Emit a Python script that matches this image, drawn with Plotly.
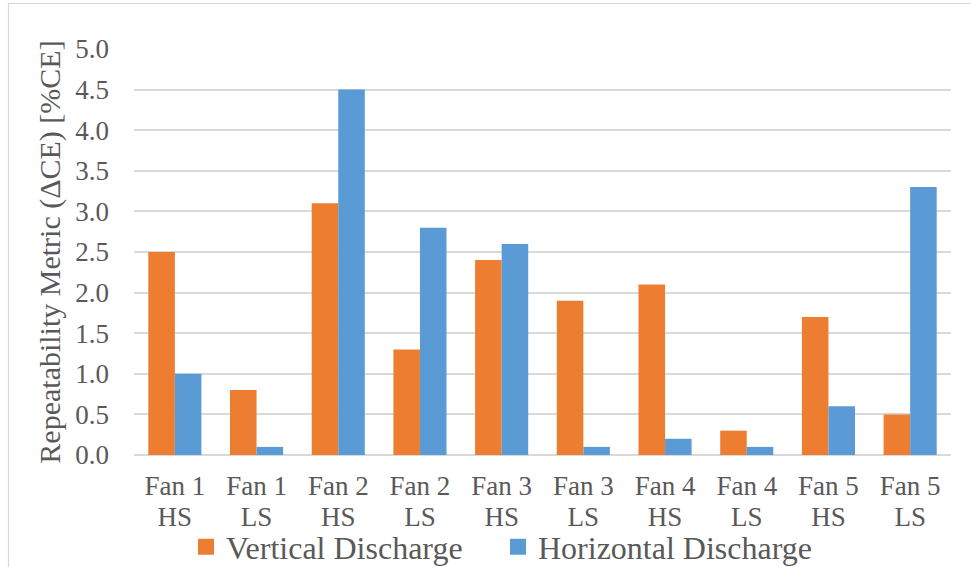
import plotly.graph_objects as go

# Fan / speed combinations on the x axis
categories = ["Fan 1 HS", "Fan 1 LS", "Fan 2 HS", "Fan 2 LS", "Fan 3 HS",
              "Fan 3 LS", "Fan 4 HS", "Fan 4 LS", "Fan 5 HS", "Fan 5 LS"]
fan_labels = ["Fan 1", "Fan 1", "Fan 2", "Fan 2", "Fan 3",
              "Fan 3", "Fan 4", "Fan 4", "Fan 5", "Fan 5"]
speed_labels = ["HS", "LS", "HS", "LS", "HS", "LS", "HS", "LS", "HS", "LS"]

# Repeatability metric (delta CE, %CE) per discharge orientation
vertical = [2.5, 0.8, 3.1, 1.3, 2.4, 1.9, 2.1, 0.3, 1.7, 0.5]
horizontal = [1.0, 0.1, 4.5, 2.8, 2.6, 0.1, 0.2, 0.1, 0.6, 3.3]

y_ticks = [0.0, 0.5, 1.0, 1.5, 2.0, 2.5, 3.0, 3.5, 4.0, 4.5, 5.0]

ORANGE = "#ED7D31"
BLUE = "#5B9BD5"
TEXT = "#595959"
GRID = "#D9D9D9"
FONT = "Liberation Serif, Times New Roman, serif"

positions = list(range(len(categories)))
x_range = [-0.5, len(categories) - 0.5]

fig = go.Figure()
fig.add_trace(go.Bar(x=categories, y=vertical, name="Vertical Discharge",
                     marker=dict(color=ORANGE, line=dict(width=0)), showlegend=False))
fig.add_trace(go.Bar(x=categories, y=horizontal, name="Horizontal Discharge",
                     marker=dict(color=BLUE, line=dict(width=0)), showlegend=False))

# legend entries with larger square swatches (no data; they also carry the second label axis)
for name, color, lg in [("Vertical Discharge", ORANGE, "legend"),
                        ("Horizontal Discharge", BLUE, "legend2")]:
    fig.add_trace(go.Scatter(x=[None], y=[None], mode="markers", name=name, xaxis="x2",
                             legend=lg,
                             marker=dict(symbol="square", size=16, color=color)))

L, R, T, B = 134, 20, 49, 112
W, H = 971, 567
pw, ph = W - L - R, H - T - B

legend_style = dict(orientation="h", xref="container", yref="container",
                    xanchor="left", y=1 - 547 / H, yanchor="middle",
                    font=dict(size=32, color=TEXT), itemwidth=30,
                    bgcolor="rgba(0,0,0,0)")

fig.update_layout(
    width=W, height=H,
    margin=dict(l=L, r=R, t=T, b=B, autoexpand=False),
    paper_bgcolor="white", plot_bgcolor="white",
    barmode="group", bargap=0.35, bargroupgap=0,
    font=dict(family=FONT, color=TEXT, size=27),
    legend=dict(x=186 / W, **legend_style),
    legend2=dict(x=498 / W, **legend_style),
    # first label line: fan number
    xaxis=dict(type="category", range=x_range, tickmode="array",
               tickvals=categories, ticktext=fan_labels,
               showgrid=False, showline=False, ticks="", automargin=False,
               ticklabelstandoff=12, tickfont=dict(size=27, color=TEXT)),
    # second label line: fan speed
    xaxis2=dict(overlaying="x", side="bottom", anchor="y", type="linear",
                range=x_range, tickmode="array", tickvals=positions, ticktext=speed_labels,
                showgrid=False, showline=False, zeroline=False, ticks="", automargin=False,
                ticklabelstandoff=43, tickfont=dict(size=27, color=TEXT)),
    yaxis=dict(range=[0, 5], tickmode="array", tickvals=y_ticks,
               ticktext=[f"{v:.1f}" for v in y_ticks],
               showgrid=True, gridcolor=GRID, gridwidth=1.5,
               zeroline=True, zerolinecolor=GRID, zerolinewidth=2,
               showline=False, ticks="", automargin=False,
               ticklabelstandoff=24, tickfont=dict(size=27, color=TEXT),
               title=dict(text="Repeatability Metric (ΔCE) [%CE]",
                          font=dict(size=30, color=TEXT), standoff=5)),
    shapes=[dict(type="rect", xref="paper", yref="paper",
                 x0=(8.5 - L) / pw, x1=(975 - L) / pw,
                 y0=(455 - 575) / ph, y1=1 + (T - 3.5) / ph,
                 line=dict(color=GRID, width=1.2), fillcolor="rgba(0,0,0,0)",
                 layer="below")],
)

fig.write_html("out.html")
